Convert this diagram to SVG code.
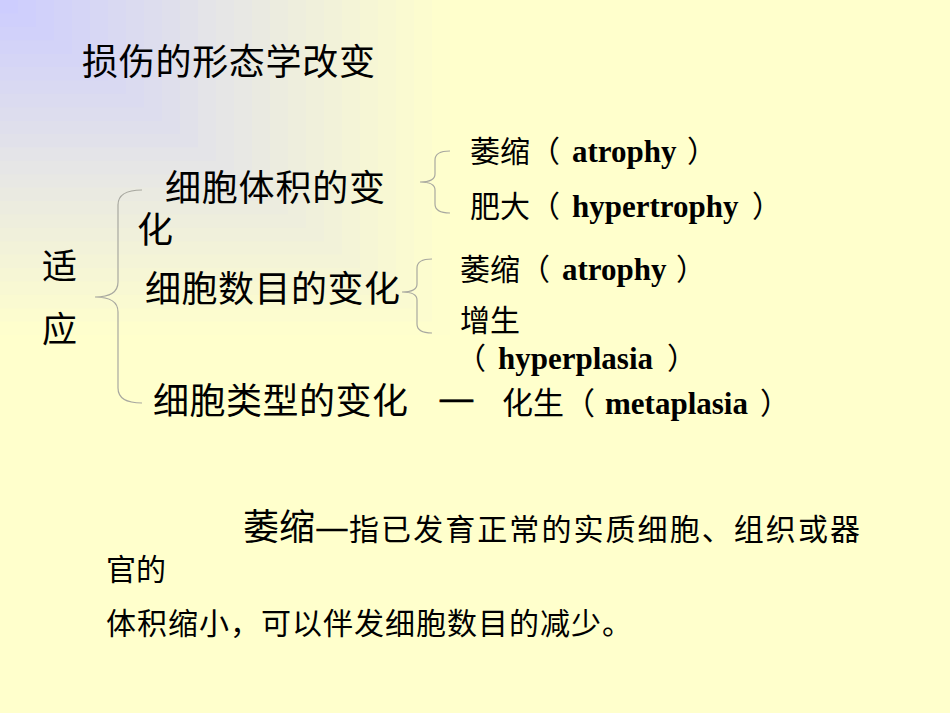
<svg xmlns="http://www.w3.org/2000/svg" width="950" height="713" viewBox="0 0 950 713">
<style>
.zh{font-family:"Noto Sans CJK SC","Noto Sans",sans-serif;fill:#000}
.en{font-family:"Liberation Serif","Noto Sans CJK SC",serif;font-weight:bold;fill:#000}
.dash{font-family:"Noto Sans CJK SC","Noto Sans",sans-serif;fill:#000;stroke:#000;stroke-width:0.6}
.br{fill:none;stroke:#a8a8a0;stroke-width:1.2}
</style>
<g id="background">
<rect x="0" y="0" width="950" height="713" fill="#FFFFCC"/>
<rect x="0" y="0" width="450" height="335" fill="rgb(254,254,205)"/>
<rect x="0" y="0" width="432" height="321.6" fill="rgb(252,252,207)"/>
<rect x="0" y="0" width="414" height="308.2" fill="rgb(250,250,209)"/>
<rect x="0" y="0" width="396" height="294.8" fill="rgb(248,248,211)"/>
<rect x="0" y="0" width="378" height="281.4" fill="rgb(246,246,213)"/>
<rect x="0" y="0" width="360" height="268" fill="rgb(244,244,215)"/>
<rect x="0" y="0" width="342" height="254.6" fill="rgb(242,242,217)"/>
<rect x="0" y="0" width="324" height="241.2" fill="rgb(240,240,219)"/>
<rect x="0" y="0" width="306" height="227.8" fill="rgb(238,238,221)"/>
<rect x="0" y="0" width="288" height="214.4" fill="rgb(236,236,223)"/>
<rect x="0" y="0" width="270" height="201" fill="rgb(234,234,225)"/>
<rect x="0" y="0" width="252" height="187.6" fill="rgb(232,232,228)"/>
<rect x="0" y="0" width="234" height="174.2" fill="rgb(230,230,230)"/>
<rect x="0" y="0" width="216" height="160.8" fill="rgb(228,228,232)"/>
<rect x="0" y="0" width="198" height="147.4" fill="rgb(225,225,234)"/>
<rect x="0" y="0" width="180" height="134" fill="rgb(223,223,236)"/>
<rect x="0" y="0" width="162" height="120.6" fill="rgb(221,221,238)"/>
<rect x="0" y="0" width="144" height="107.2" fill="rgb(219,219,240)"/>
<rect x="0" y="0" width="126" height="93.8" fill="rgb(217,217,242)"/>
<rect x="0" y="0" width="108" height="80.4" fill="rgb(215,215,244)"/>
<rect x="0" y="0" width="90" height="67" fill="rgb(213,213,246)"/>
<rect x="0" y="0" width="72" height="53.6" fill="rgb(211,211,248)"/>
<rect x="0" y="0" width="54" height="40.2" fill="rgb(209,209,250)"/>
<rect x="0" y="0" width="36" height="26.8" fill="rgb(207,207,252)"/>
<rect x="0" y="0" width="18" height="13.4" fill="rgb(205,205,254)"/>
</g>
<g id="connectors">
<path class="br" d="M142,190 Q118,190 118,205 L118,282 Q118,297 95,297 Q118,297 118,312 L118,388 Q118,403 142,403"/>
<path class="br" d="M450,151 Q435,151 435,160 L435,174 Q435,182 420,182 Q435,182 435,190 L435,204 Q435,213 450,213"/>
<path class="br" d="M432,259 Q417,259 417,268 L417,284 Q417,292 402,292 Q417,292 417,300 L417,324 Q417,333 432,333"/>
</g>
<g id="title"><text class="zh" x="82" y="75" font-size="36" textLength="293" lengthAdjust="spacing">损伤的形态学改变</text></g>
<g id="node-adapt">
<text class="zh" x="42" y="279" font-size="35">适</text>
<text class="zh" x="42" y="342" font-size="35">应</text>
</g>
<g id="node-size">
<text class="zh" x="165" y="201" font-size="36" textLength="220" lengthAdjust="spacing">细胞体积的变</text>
<text class="zh" x="137" y="243" font-size="36">化</text>
</g>
<g id="node-number"><text class="zh" x="145" y="302" font-size="36" textLength="255" lengthAdjust="spacing">细胞数目的变化</text></g>
<g id="node-type">
<text class="zh" x="153" y="414" font-size="36" textLength="255" lengthAdjust="spacing">细胞类型的变化</text>
<text class="dash" x="438" y="411" font-size="36" textLength="37" lengthAdjust="spacingAndGlyphs">—</text>
</g>
<g id="node-atrophy1">
<text class="zh" x="470" y="162" font-size="30">萎缩（</text>
<text class="en" x="572" y="162" font-size="31">atrophy</text>
<text class="zh" x="687" y="162" font-size="30">）</text>
</g>
<g id="node-hypertrophy">
<text class="zh" x="470" y="217" font-size="30">肥大（</text>
<text class="en" x="572" y="217" font-size="31">hypertrophy</text>
<text class="zh" x="752" y="217" font-size="30">）</text>
</g>
<g id="node-atrophy2">
<text class="zh" x="460" y="280" font-size="30">萎缩（</text>
<text class="en" x="562" y="280" font-size="31">atrophy</text>
<text class="zh" x="676" y="280" font-size="30">）</text>
</g>
<g id="node-hyperplasia">
<text class="zh" x="460" y="331" font-size="30">增生</text>
<text class="zh" x="456" y="369" font-size="30">（</text>
<text class="en" x="498" y="369" font-size="31">hyperplasia</text>
<text class="zh" x="667" y="369" font-size="30">）</text>
</g>
<g id="node-metaplasia">
<text class="zh" x="502" y="414" font-size="31">化生（</text>
<text class="en" x="605" y="414" font-size="31">metaplasia</text>
<text class="zh" x="760" y="414" font-size="30">）</text>
</g>
<g id="definition">
<text class="zh" x="243" y="540" font-size="36">萎缩</text>
<text class="dash" x="315" y="538" font-size="30" textLength="34" lengthAdjust="spacingAndGlyphs">—</text>
<text class="zh" x="349" y="540" font-size="30" textLength="511" lengthAdjust="spacing">指已发育正常的实质细胞、组织或器</text>
<text class="zh" x="106" y="580" font-size="30">官的</text>
<text class="zh" x="106" y="634" font-size="30" textLength="526" lengthAdjust="spacing">体积缩小，可以伴发细胞数目的减少。</text>
</g>
</svg>
